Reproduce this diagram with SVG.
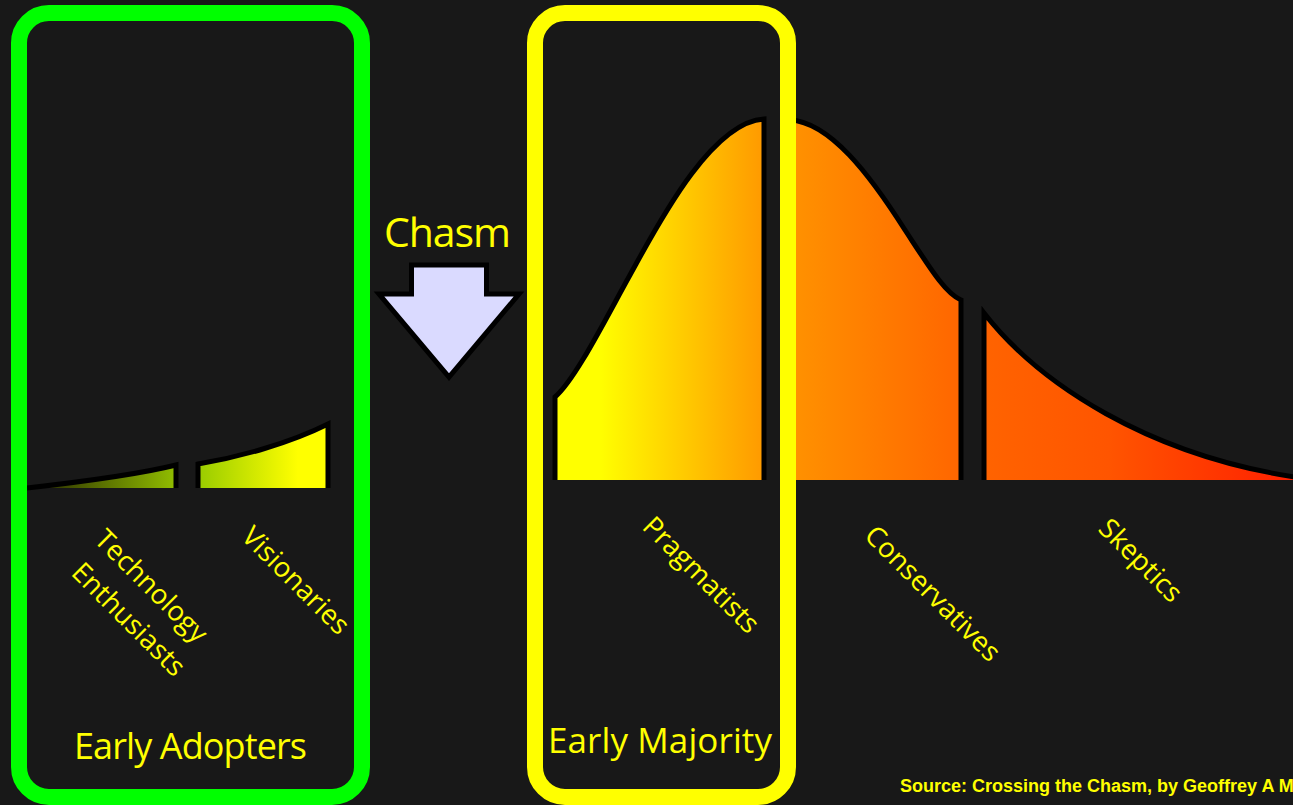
<svg xmlns="http://www.w3.org/2000/svg" width="1293" height="805" viewBox="0 0 1293 805">
  <defs>
    <linearGradient id="gBell" gradientUnits="userSpaceOnUse" x1="555" y1="0" x2="1293" y2="0">
      <stop offset="0" stop-color="#ffff00"/>
      <stop offset="0.06" stop-color="#ffff00"/>
      <stop offset="0.283" stop-color="#ff9900"/>
      <stop offset="0.55" stop-color="#ff6600"/>
      <stop offset="0.75" stop-color="#ff5500"/>
      <stop offset="1" stop-color="#ff2000"/>
    </linearGradient>
    <linearGradient id="gLeft" gradientUnits="userSpaceOnUse" x1="27" y1="0" x2="328" y2="0">
      <stop offset="0" stop-color="#222200"/>
      <stop offset="0.49" stop-color="#90bc00"/>
      <stop offset="0.57" stop-color="#99cc00"/>
      <stop offset="0.9" stop-color="#ffff00"/>
      <stop offset="1" stop-color="#ffff00"/>
    </linearGradient>
    <style>
      .edge { fill: none; stroke: #000; stroke-width: 5; stroke-linejoin: miter; }
      .lbl { font-family: "Open Sans", "DejaVu Sans", sans-serif; fill: #ffff00; }
      .rot { font-size: 27.5px; }
      .box { fill: none; stroke-width: 16; }
    </style>
  </defs>
  <rect x="0" y="0" width="1293" height="805" fill="#181818"/>

  <g id="curve-left">
    <path d="M27,488 C80,482 140,474 176,465 L176,488 Z" fill="url(#gLeft)"/>
    <path class="edge" d="M27,488 C80,482 140,474 176,465 L176,488"/>
    <path d="M198,488 L198,464 C240,457 290,443 328,424 L328,488 Z" fill="url(#gLeft)"/>
    <path class="edge" d="M198,488 L198,464 C240,457 290,443 328,424 L328,488"/>
  </g>

  <g id="curve-right">
    <path d="M555,480 L555,397 C575,380 605,320 630,275 C655,230 710,122 764,119 L764,480 Z" fill="url(#gBell)"/>
    <path class="edge" d="M555,480 L555,397 C575,380 605,320 630,275 C655,230 710,122 764,119 L764,480"/>
    <path d="M790,480 L790,120 C830,122 870,175 905,230 C930,268 945,293 961,300 L961,480 Z" fill="url(#gBell)"/>
    <path class="edge" d="M790,120 C830,122 870,175 905,230 C930,268 945,293 961,300 L961,480"/>
    <path d="M984,480 L984,313 C1040,385 1150,455 1293,477 L1293,480 Z" fill="url(#gBell)"/>
    <path class="edge" d="M984,480 L984,313 C1040,385 1150,455 1295,477"/>
  </g>

  <g id="early-adopters">
    <rect class="box" x="19" y="13" width="343" height="784" rx="30" ry="30" stroke="#00ff00"/>
    <text class="lbl" x="74" y="759" font-size="36" textLength="233">Early Adopters</text>
  </g>

  <g id="early-majority">
    <rect class="box" x="535" y="13" width="253" height="784" rx="30" ry="30" stroke="#ffff00"/>
    <text class="lbl" x="548" y="753" font-size="35" textLength="224">Early Majority</text>
  </g>

  <g id="chasm">
    <text class="lbl" x="384" y="247" font-size="41" textLength="127">Chasm</text>
    <polygon points="411.5,265 486.5,265 486.5,294 519,294 449,377 379,294 411.5,294" fill="#dadaff" stroke="#000" stroke-width="5" stroke-linejoin="miter"/>
  </g>

  <g id="labels">
    <text class="lbl rot" transform="translate(93,541) rotate(45)">Technology</text>
    <text class="lbl rot" transform="translate(70,574) rotate(45)">Enthusiasts</text>
    <text class="lbl rot" transform="translate(240,538) rotate(45)">Visionaries</text>
    <text class="lbl rot" transform="translate(641,528) rotate(45)">Pragmatists</text>
    <text class="lbl rot" transform="translate(863,537) rotate(45)">Conservatives</text>
    <text class="lbl rot" transform="translate(1097,530) rotate(45)">Skeptics</text>
  </g>

  <g id="source">
    <text x="900" y="792" font-family="'Liberation Sans', Arial, sans-serif" font-weight="bold" font-size="18" fill="#ffff00">Source: Crossing the Chasm, by Geoffrey A M</text>
  </g>
</svg>
